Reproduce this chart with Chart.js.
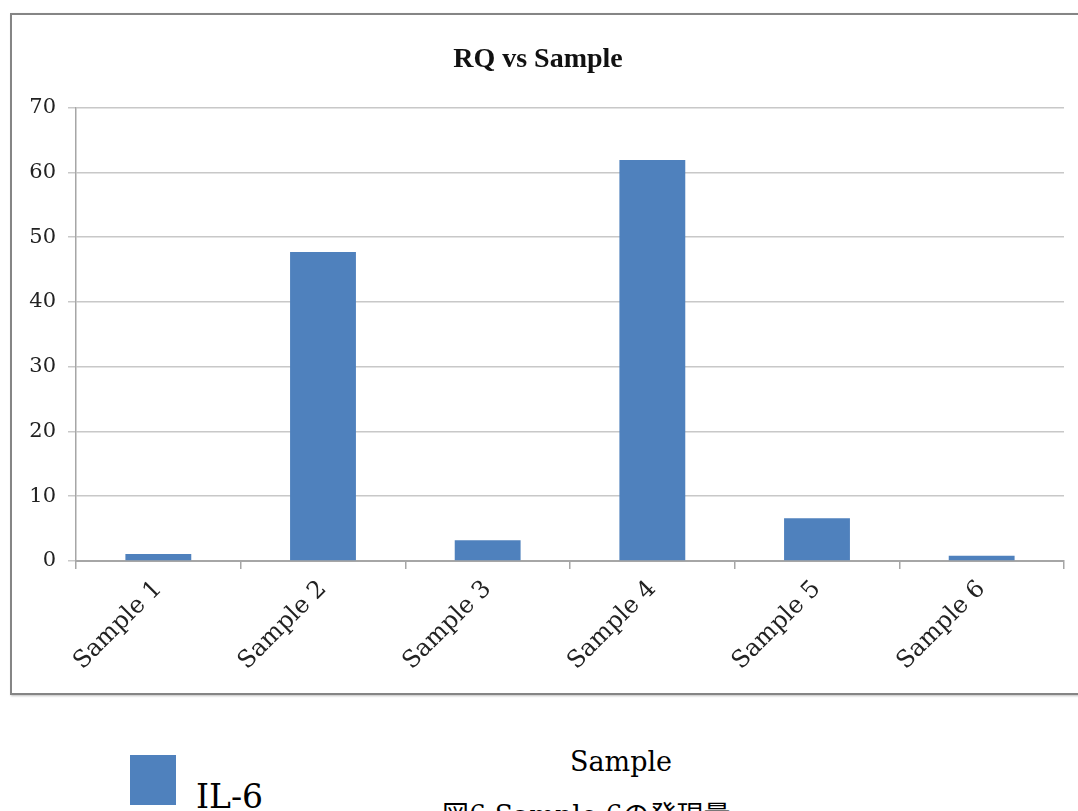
<!DOCTYPE html>
<html>
<head>
<meta charset="utf-8">
<script src="https://cdn.jsdelivr.net/npm/chart.js@4"></script>
<style>
  body { margin: 0; background: #fff; width: 1078px; height: 811px; overflow: hidden; position: relative; }
  #frame { position: absolute; left: 10px; top: 13px; width: 1090px; height: 682px; box-sizing: border-box;
           border: 2px solid #858585; box-shadow: 1px 1px 2px rgba(0,0,0,0.25); }
  #chart { position: absolute; left: 0; top: 0; }
  .legend-box { position: absolute; left: 130px; top: 755px; width: 46px; height: 50px; background: #4f81bd; }
  .legend-text { position: absolute; left: 196px; top: 780px; font: 33px 'DejaVu Serif', serif; line-height: 1; color: #000; }
  .axis-name { position: absolute; left: 570px; top: 748px; font: 27px 'DejaVu Serif', serif; line-height: 1; color: #000; }
  .caption { position: absolute; left: 442px; top: 802px; font: 27px 'DejaVu Serif', 'Noto Sans CJK JP', serif; line-height: 1; color: #000; white-space: nowrap; }
</style>
</head>
<body>
<div id="frame"><canvas id="chart" width="1066" height="678"></canvas></div>
<div class="legend-box"></div>
<div class="legend-text">IL-6</div>
<div class="axis-name">Sample</div>
<div class="caption">図6 Sample 6の発現量</div>

<script>
// --- dados do gráfico ---
const categories = ['Sample 1', 'Sample 2', 'Sample 3', 'Sample 4', 'Sample 5', 'Sample 6'];
const rqValues = [1.1, 47.7, 3.2, 61.9, 6.6, 0.8];
const seriesName = 'IL-6';
const yTicks = [0, 10, 20, 30, 40, 50, 60, 70];

const serif = "'DejaVu Serif', serif";

new Chart(document.getElementById('chart'), {
    type: 'bar',
    data: {
        labels: categories,
        datasets: [{
            label: seriesName,
            data: rqValues,
            backgroundColor: '#4f81bd',
            barPercentage: 0.4,
            categoryPercentage: 1.0
        }]
    },
    options: {
        responsive: false,
        animation: false,
        layout: { padding: { left: 0, right: 14, top: 0, bottom: 0 } },
        plugins: {
            legend: { display: false },
            tooltip: { enabled: false },
            title: {
                display: true,
                text: 'RQ vs Sample',
                color: '#111',
                font: { family: "'Liberation Serif', serif", size: 28, weight: 'bold' },
                padding: { top: 28, bottom: 31 }
            }
        },
        scales: {
            x: {
                offset: true,
                grid: { offset: true, drawOnChartArea: false, drawTicks: true, tickLength: 8, color: '#a6a6a6', lineWidth: 1.5 },
                border: { color: '#a6a6a6', width: 2 },
                ticks: { color: '#222', font: { family: serif, size: 24 }, minRotation: 45, maxRotation: 45, padding: 6 },
                afterFit: (scale) => { scale.height = 132; }
            },
            y: {
                min: 0,
                max: 70,
                afterBuildTicks: (scale) => { scale.ticks = yTicks.map(v => ({ value: v })); },
                grid: { color: '#c8c8c8', lineWidth: 1.5, tickLength: 8 },
                border: { color: '#a6a6a6', width: 1.5 },
                ticks: { color: '#222', font: { family: serif, size: 21 }, padding: 12 },
                afterFit: (scale) => { scale.width = 64; }
            }
        }
    }
});
</script>
</body>
</html>
